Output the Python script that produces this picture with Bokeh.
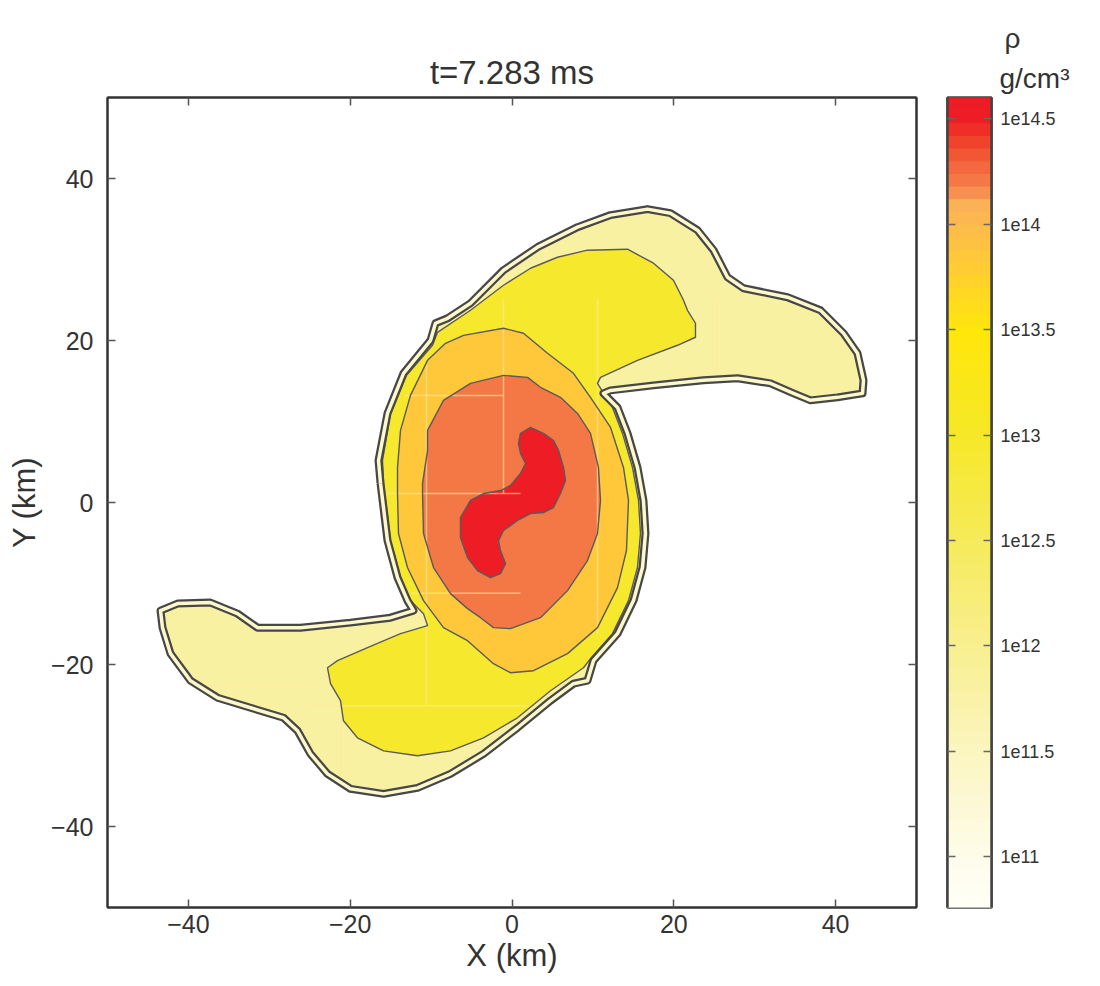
import numpy as np
from bokeh.plotting import figure
from bokeh.layouts import row
from bokeh.models import (ColumnDataSource, LinearColorMapper, FixedTicker, Title,
                          LinearAxis, CustomJSTickFormatter)
from bokeh.transform import transform
from bokeh.embed import file_html
from bokeh.resources import INLINE

# ---------------- data (km, log10 rho) ----------------
title_text = "t=7.283 ms"
cbar_quantity = "ρ"
cbar_unit = "g/cm³"

# outermost density contour (edge of matter)
outer_x = [-16.25, -16.5, -15.39, -13.41, -10.07, -9.46, -7.97, -5.13, -1.05, 3.15, 8.1, 12.18,
           16.75, 19.59, 22.93, 24.91, 26.64, 28.62, 34.05, 38.13, 40.98, 42.71, 43.45, 43.33,
           40.23, 36.9, 34.8, 31.95, 27.87, 23.67, 17.49, 12.18, 11.31, 13.04, 14.28, 15.51,
           16.25, 16.5, 16.13, 15.02, 13.04, 10.07, 9.33, 7.6, 4.76, 0.68, -3.52, -7.6, -11.68,
           -15.88, -19.96, -22.81, -24.91, -26.51, -28.24, -32.32, -36.4, -39.74, -42.21, -43.2,
           -43.45, -41.35, -37.27, -33.93, -31.46, -26.14, -19.96, -15.02, -12.18, -12.92, -14.15,
           -15.39]
outer_y = [2.35, 5.19, 11.0, 15.95, 20.02, 22.13, 22.74, 24.6, 28.68, 31.52, 33.99, 35.48,
           36.22, 35.72, 33.62, 31.15, 27.81, 26.45, 25.34, 23.73, 20.89, 18.42, 15.08, 13.47,
           12.98, 12.61, 13.47, 14.71, 15.33, 15.08, 14.46, 13.84, 13.47, 11.74, 8.53, 4.33,
           0.25, -3.83, -8.03, -12.11, -16.19, -19.53, -22.0, -22.37, -24.47, -27.81, -31.03,
           -33.5, -35.23, -35.97, -35.35, -33.5, -31.03, -28.18, -26.58, -25.34, -24.1, -22.0,
           -18.66, -15.45, -13.35, -12.48, -12.36, -13.72, -15.45, -15.45, -14.83, -14.22,
           -13.35, -12.11, -9.27, -4.7]

yellow_x = [-15.88, -16.01, -15.02, -13.04, -9.83, -9.21, -5.13, -1.05, 2.29, 5.62, 9.33, 14.28,
            17.49, 19.96, 21.2, 21.69, 22.68, 22.68, 20.46, 15.51, 10.94, 10.57, 12.42, 13.66,
            14.89, 15.64, 15.88, 15.51, 14.4, 12.42, 9.7, 8.84, 4.76, 0.68, -3.52, -7.6, -11.68,
            -15.88, -19.1, -20.83, -21.2, -22.43, -22.81, -21.57, -17.86, -13.78, -10.44, -10.94,
            -12.55, -13.78, -15.02]
yellow_y = [2.35, 5.19, 11.0, 15.7, 19.41, 21.01, 23.73, 26.82, 28.92, 30.28, 31.15, 31.27,
            29.54, 27.44, 24.97, 23.73, 22.13, 20.4, 19.41, 17.55, 15.45, 14.71, 11.74, 8.53,
            4.33, 0.25, -3.83, -8.03, -12.11, -16.19, -19.28, -20.4, -23.24, -26.58, -29.05,
            -30.66, -31.27, -30.66, -29.05, -26.95, -24.47, -22.37, -20.4, -19.53, -17.92,
            -16.19, -15.2, -13.72, -12.11, -9.27, -4.7]

gold_x = [-14.15, -14.15, -13.78, -12.55, -10.44, -8.22, -5.99, -1.05, 1.42, 4.39, 7.6, 8.47,
          9.7, 12.18, 13.78, 14.4, 14.15, 13.04, 10.57, 6.86, 2.66, -0.19, -2.29, -5.5, -8.47,
          -10.94, -12.92, -14.03]
gold_y = [1.11, 4.33, 8.9, 13.23, 17.55, 19.65, 20.64, 21.51, 20.89, 18.42, 15.95, 14.71,
          12.98, 9.27, 4.33, 0.25, -5.93, -10.51, -15.45, -18.66, -20.77, -21.01, -19.9, -17.06,
          -15.45, -12.11, -8.03, -3.83]

orange_x = [-11.06, -11.06, -10.44, -10.44, -8.47, -5.13, -1.05, 1.92, 3.52, 5.99, 8.1, 9.7,
            10.69, 10.94, 10.57, 9.33, 6.86, 3.52, -0.19, -2.29, -3.89, -5.5, -7.6, -9.7, -10.94]
orange_y = [1.11, 2.35, 6.43, 8.9, 12.61, 14.71, 15.7, 15.45, 14.22, 12.98, 11.0, 8.53,
            4.33, 0.25, -3.83, -7.17, -10.88, -14.22, -15.57, -15.45, -14.22, -13.1, -11.25,
            -8.03, -3.83]

red_x = [1.05, 2.29, 3.89, 5.13, 5.75, 6.37, 6.61, 5.99, 5.13, 3.89, 2.29, 0.68, -1.05, -1.67,
         -1.42, -0.8, -1.42, -2.66, -4.26, -5.5, -6.37, -6.37, -5.13, -3.52, -1.42, -0.19, 1.05,
         1.67, 1.05, 0.8]
red_y = [8.53, 9.27, 8.53, 7.66, 6.43, 4.33, 2.72, 1.11, -0.62, -1.24, -1.36, -2.22, -3.46,
         -4.7, -5.93, -7.54, -8.78, -9.27, -8.41, -6.8, -4.33, -1.85, 0.25, 1.11, 1.48, 2.1,
         3.58, 4.82, 6.06, 7.29]

# log10(rho) of each filled band: outer, yellow, gold, orange, red
region_levels = [11.83, 12.94, 13.84, 14.19, 14.55]

# faint mesh-refinement block edges
grid_x0 = [-1.05, 10.57, 25.4, -10.57, -13.3, -16.3, -12.5, -24.9, -37.6, -21.1]
grid_y0 = [25.2, 25.2, 25.2, 17.9, 13.2, 1.1, -11.2, -25.1, -22.6, -25.1]
grid_x1 = [-1.05, 10.57, 25.4, -10.57, -1.05, 1.05, 1.05, 1.9, -25.3, -21.1]
grid_y1 = [1.1, -16.3, 15.0, -25.1, 13.2, 1.1, -11.2, -25.1, -22.6, -34.0]

axis_ticks = [-40, -20, 0, 20, 40]
cbar_ticks = [11, 11.5, 12, 12.5, 13, 13.5, 14, 14.5]
rho_low, rho_high = 10.76, 14.6

# ---------------- colormap (style) ----------------
anchors = [(10.76, "#FFFFF8"), (11.0, "#FEFCEA"), (11.5, "#FBF5C0"), (12.0, "#F8EF90"),
           (12.5, "#F6EA5A"), (13.0, "#F6E828"), (13.5, "#FFE60A"), (13.84, "#FFC93A"),
           (14.12, "#FBAF5A"), (14.16, "#F5864E"), (14.3, "#F26039"), (14.42, "#EF3A28"),
           (14.5, "#EE1C24"), (14.6, "#EE1C24")]


def hex2rgb(h):
    return [int(h[i:i + 2], 16) for i in (1, 3, 5)]


alv = np.array([a[0] for a in anchors])
argb = np.array([hex2rgb(a[1]) for a in anchors], dtype=float)
ncol = 64
edges = np.linspace(rho_low, rho_high, ncol + 1)
centers = 0.5 * (edges[:-1] + edges[1:])
palette = []
for c in centers:
    rgb = [np.interp(c, alv, argb[:, k]) for k in range(3)]
    palette.append("#%02X%02X%02X" % tuple(int(round(v)) for v in rgb))

mapper = LinearColorMapper(palette=palette, low=rho_low, high=rho_high)

FONT = "Liberation Sans"
TXT = "#333333"

# ---------------- main panel ----------------
p = figure(x_range=(-50, 50), y_range=(-50, 50), width=926, height=986,
           min_border_left=107, min_border_right=10, min_border_top=97, min_border_bottom=79,
           output_backend="svg", toolbar_location=None, title=title_text)
p.grid.visible = False
p.outline_line_color = "#333333"
p.outline_line_width = 2

p.title.align = "center"
p.title.text_font = FONT
p.title.text_font_size = "33px"
p.title.text_font_style = "normal"
p.title.text_color = TXT
p.title.standoff = 14

fmt = CustomJSTickFormatter(code="return tick < 0 ? '\\u2212' + Math.abs(tick) : String(tick);")
for ax, lab in ((p.xaxis[0], "X (km)"), (p.yaxis[0], "Y (km)")):
    ax.ticker = FixedTicker(ticks=axis_ticks)
    ax.formatter = fmt
    ax.axis_label = lab
    ax.axis_label_text_font = FONT
    ax.axis_label_text_font_size = "31px"
    ax.axis_label_text_font_style = "normal"
    ax.axis_label_text_color = TXT
    ax.major_label_text_font = FONT
    ax.major_label_text_font_size = "25px"
    ax.major_label_text_color = TXT
    ax.major_tick_in = 8
    ax.major_tick_out = 0
    ax.minor_tick_line_color = None
    ax.major_tick_line_color = "#555555"
    ax.major_tick_line_width = 1.5
    ax.axis_line_color = "#333333"
    ax.axis_line_width = 2
p.xaxis.major_label_standoff = 7
p.xaxis.axis_label_standoff = 2
p.yaxis.major_label_standoff = 14
p.yaxis.axis_label_standoff = 6

blank = CustomJSTickFormatter(code="return '';")
for loc in ("above", "right"):
    extra = LinearAxis(ticker=FixedTicker(ticks=axis_ticks), formatter=blank,
                       major_tick_in=8, major_tick_out=0, minor_tick_line_color=None,
                       major_tick_line_color="#555555", major_tick_line_width=1.5,
                       axis_line_color="#333333", axis_line_width=2, major_label_standoff=0)
    p.add_layout(extra, loc)

# filled density bands
src = ColumnDataSource(dict(xs=[outer_x, yellow_x, gold_x, orange_x, red_x],
                            ys=[outer_y, yellow_y, gold_y, orange_y, red_y],
                            level=region_levels))
p.patches("xs", "ys", source=src, fill_color=transform("level", mapper), line_color=None)

# faint block edges
p.segment(x0=grid_x0, y0=grid_y0, x1=grid_x1, y1=grid_y1, line_color="#FFE7A0",
          line_alpha=0.6, line_width=1.5)

# contour lines
inner = ColumnDataSource(dict(xs=[yellow_x + yellow_x[:1], gold_x + gold_x[:1],
                                  orange_x + orange_x[:1], red_x + red_x[:1]],
                              ys=[yellow_y + yellow_y[:1], gold_y + gold_y[:1],
                                  orange_y + orange_y[:1], red_y + red_y[:1]]))
p.multi_line("xs", "ys", source=inner, line_color="#5A5A5A", line_width=1.4, line_join="round")

ox = outer_x + outer_x[:1]
oy = outer_y + outer_y[:1]
p.line(ox, oy, line_color="#474747", line_width=8, line_join="round")
p.line(ox, oy, line_color="#FCF8CC", line_width=3.5, line_join="round")

# ---------------- colour bar panel ----------------
cf = figure(x_range=(0, 1), y_range=(rho_low, rho_high), width=174, height=986,
            min_border_left=21, min_border_right=109, min_border_top=97, min_border_bottom=79,
            output_backend="svg", toolbar_location=None)
cf.grid.visible = False
cf.xaxis.visible = False
cf.outline_line_color = "#444444"
cf.outline_line_width = 2.5

csrc = ColumnDataSource(dict(bottom=edges[:-1], top=edges[1:], level=centers))
cf.quad(left=0, right=1, bottom="bottom", top="top", source=csrc,
        fill_color=transform("level", mapper), line_color=transform("level", mapper),
        line_width=1)

cax_kw = dict(ticker=FixedTicker(ticks=cbar_ticks), major_tick_in=8, major_tick_out=0,
              minor_tick_line_color=None, major_tick_line_color="#666666",
              major_tick_line_width=1.5, axis_line_color="#444444", axis_line_width=2.5)
left_ax = cf.yaxis[0]
for k, v in cax_kw.items():
    setattr(left_ax, k, v)
left_ax.formatter = blank
left_ax.major_label_standoff = 0

right_ax = LinearAxis(formatter=CustomJSTickFormatter(code="return '1e' + tick;"),
                      major_label_text_font=FONT, major_label_text_font_size="18px",
                      major_label_text_color=TXT, major_label_standoff=9, **cax_kw)
cf.add_layout(right_ax, "right")

cf.add_layout(Title(text=cbar_unit, align="left", offset=52, standoff=8,
                    text_font=FONT, text_font_size="28px", text_font_style="normal",
                    text_color=TXT), "above")
cf.add_layout(Title(text=cbar_quantity, align="left", offset=57, standoff=6,
                    text_font=FONT, text_font_size="28px", text_font_style="normal",
                    text_color=TXT), "above")

layout = row(p, cf)
open("out.html", "w").write(file_html(layout, INLINE))
